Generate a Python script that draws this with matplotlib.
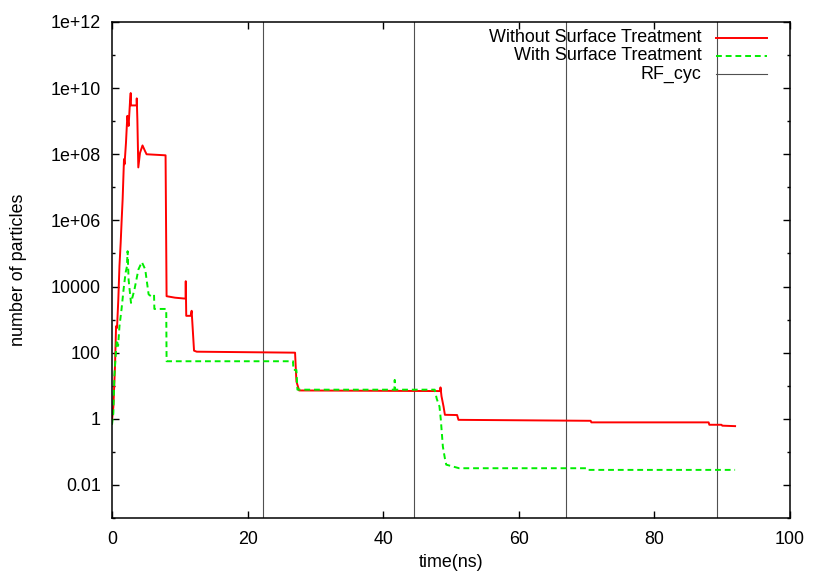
import matplotlib
matplotlib.use("Agg")
import matplotlib.pyplot as plt
from matplotlib.ticker import NullFormatter, FixedLocator, FixedFormatter

plt.rcParams['font.family'] = ['Liberation Sans', 'DejaVu Sans']
plt.rcParams['font.size'] = 12.9

# --- data ---
red_t = [0, 0.2, 0.44, 0.6, 0.74, 0.93, 1.1, 1.28, 1.43, 1.57, 1.77, 1.85, 2.06, 2.26,
         2.45, 2.65, 2.76, 2.8, 3.64, 3.65, 3.74, 3.88, 4.13, 4.5, 4.87, 5.1, 7.9, 8.05,
         9.3, 10.85, 10.88, 10.95, 11.6, 11.75, 11.8, 12.1, 12.5, 27.0, 27.2, 27.6,
         48.4, 48.45, 48.6, 48.9, 49.1, 50.9, 51.1, 70.6, 70.7, 88.0, 88.1, 89.9, 90.0, 91.9]
red_v = [0.9, 2.3, 38, 630, 560, 4.0e3, 4.2e4, 2.1e5, 1.07e6, 4.4e6, 7.1e7, 5.0e7, 2.2e8, 1.45e9,
         7.2e8, 3.7e9, 7.1e9, 3.0e9, 3.0e9, 4.9e9, 1.15e9, 4.0e7, 1.1e8, 1.85e8, 1.25e8, 1.0e8, 9.3e7, 5.1e3,
         4.6e3, 4.3e3, 1.45e4, 1.3e3, 1.3e3, 1.85e3, 1.2e3, 115, 107, 100, 13.5, 7.2,
         6.9, 8.9, 4.8, 2.35, 1.32, 1.3, 0.93, 0.87, 0.78, 0.78, 0.66, 0.66, 0.62, 0.6]

green_t = [0, 0.2, 0.35, 0.7, 0.9, 1.1, 1.4, 1.7, 2.0, 2.2, 2.3, 2.45, 2.8, 3.3, 3.9, 4.4,
           4.9, 5.4, 5.8, 6.2, 6.25, 8.0, 8.05, 26.7, 26.75, 27.2, 27.35, 41.65, 41.7, 41.75,
           47.6, 47.9, 48.3, 48.5, 48.8, 49.1, 49.3, 51.2, 70.0, 70.1, 91.9]
green_v = [0.66, 1.5, 20, 245, 160, 630, 2.0e3, 7.9e3, 2.6e4, 4.0e4, 1.17e5, 1.6e4, 3.2e3, 7.9e3, 3.3e4, 5.5e4,
           3.3e4, 5.8e3, 5.0e3, 5.6e3, 2.1e3, 2.1e3, 55, 55, 30, 30, 7.6, 7.6, 15, 7.6,
           7.6, 4.0, 2.35, 0.93, 0.145, 0.063, 0.041, 0.032, 0.032, 0.0285, 0.0285]

rf_t = [22.3, 44.6, 67.0, 89.3]

labels = ['Without Surface Treatment', 'With Surface Treatment', 'RF_cyc']
colors = ['#ff0000', '#00ee00', '#505050']

fig = plt.figure(figsize=(8.22, 5.76), dpi=100)
ax = fig.add_axes([112 / 822, 1 - 518 / 576, 678 / 822, 496 / 576])

for t in rf_t:
    ax.axvline(t, color=colors[2], lw=0.8)
ax.plot(red_t, red_v, color=colors[0], lw=1.4)
ax.plot(green_t, green_v, color=colors[1], lw=1.4, dashes=(3, 2))

ax.set_yscale('log')
ax.set_xlim(0, 100)
ax.set_ylim(1e-3, 1e12)
ax.set_xticks([0, 20, 40, 60, 80, 100])
yt = [1e-2, 1, 1e2, 1e4, 1e6, 1e8, 1e10, 1e12]
ax.yaxis.set_major_locator(FixedLocator(yt))
ax.yaxis.set_major_formatter(FixedFormatter(['0.01', '1', '100', '10000', '1e+06', '1e+08', '1e+10', '1e+12']))
ax.yaxis.set_minor_locator(FixedLocator([10.0 ** k for k in range(-3, 13, 2)]))
ax.yaxis.set_minor_formatter(NullFormatter())
ax.tick_params(which='both', direction='in', top=True, right=True, width=1)
ax.tick_params(which='major', length=5, pad=8)
ax.tick_params(axis='x', which='major', pad=9)
ax.tick_params(which='minor', length=2.5)
for s in ax.spines.values():
    s.set_linewidth(1.1)

ax.set_xlabel('time(ns)', labelpad=5)
ax.set_ylabel('number of particles', labelpad=17)

# legend, gnuplot style: text right aligned, sample on the right
ys = [0.968, 0.932, 0.895]
styles = [dict(lw=1.4), dict(lw=1.4, dashes=(3, 2)), dict(lw=0.8)]
for lab, c, y, st in zip(labels, colors, ys, styles):
    ax.text(0.870, y, lab, transform=ax.transAxes, ha='right', va='center')
    ax.plot([0.891, 0.966], [y, y], transform=ax.transAxes, color=c, **st)

fig.savefig('out.png', dpi=100)
